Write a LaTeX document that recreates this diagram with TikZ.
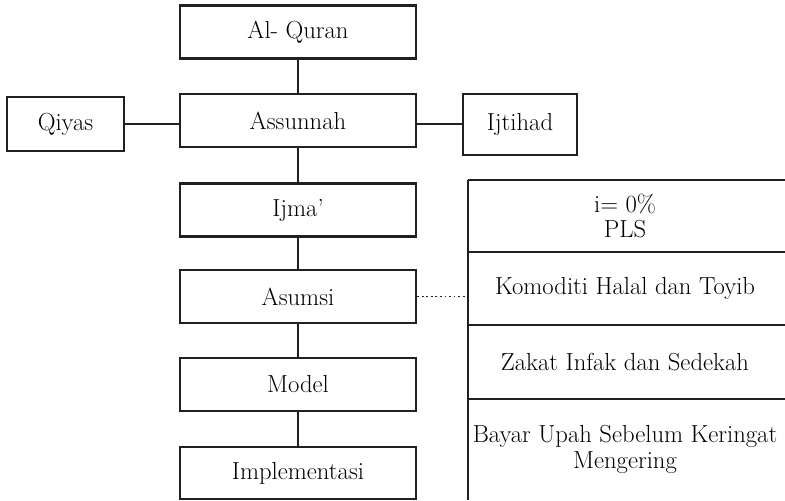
\documentclass[tikz,border=0pt]{standalone}
\usepackage{tikz}
\definecolor{inkColor}{HTML}{231F20}
\begin{document}
\begin{tikzpicture}[x=0.75pt,y=-0.75pt,
box/.style={shape=rectangle,draw=inkColor,line width=2pt,minimum width=177pt,
    minimum height=39.75pt,inner sep=0,font=\fontsize{18.5}{19}\selectfont},
cell/.style={shape=rectangle,minimum width=235.5pt,inner sep=0,align=center,
    font=\fontsize{18.5}{19}\selectfont},
myedge/.style={line width=1.6pt,draw=inkColor},
dotEdge/.style={line width=1.4pt,draw=inkColor,dotted}
]
\clip (0,0) rectangle (785,500);
\coordinate (edge) at (800,0);
% main column
\node[box] (quran) at (298,32) {Al- Quran};
\node[box] (sunnah) at (298,120.5) {Assunnah};
\node[box,minimum width=87.75pt,minimum height=40.5pt] (qiyas) at (65.5,124) {Qiyas};
\node[box,minimum width=85.5pt,minimum height=45.75pt] (ijtihad) at (520,124.5) {Ijtihad};
\node[box] (ijma) at (298,210) {Ijma'};
\node[box] (asumsi) at (298,296.5) {Asumsi};
\node[box] (model) at (298,384.5) {Model};
\node[box,minimum height=39pt] (impl) at (298,473) {Implementasi};
% assumption cells
\node[cell,minimum height=54pt] (cell1) at (625,216) {i= 0\%\\PLS};
\node[cell,minimum height=54.75pt] (cell2) at (625,288.5) {Komoditi Halal dan Toyib};
\node[cell,minimum height=55.5pt] (cell3) at (625,362) {Zakat Infak dan Sedekah};
\node[cell,minimum height=75.75pt] (cell4) at (625,449.5) {Bayar Upah Sebelum Keringat\\Mengering};
\draw[myedge] (cell1.north west) -- (cell4.south west);
\draw[myedge] (cell1.north west) -- (cell1.north west -| edge)
    (cell2.north west) -- (cell2.north west -| edge)
    (cell3.north west) -- (cell3.north west -| edge)
    (cell4.north west) -- (cell4.north west -| edge);
% connectors
\draw[myedge] (quran) -- (sunnah) (sunnah) -- (ijma) (ijma) -- (asumsi)
    (asumsi) -- (model) (model) -- (impl);
\draw[myedge] (qiyas.east) -- (qiyas.east -| sunnah.west);
\draw[myedge] (sunnah.east |- qiyas.east) -- (ijtihad.west |- qiyas.east);
\draw[dotEdge] (asumsi.east) -- (asumsi.east -| cell2.west);
\end{tikzpicture}
\end{document}
